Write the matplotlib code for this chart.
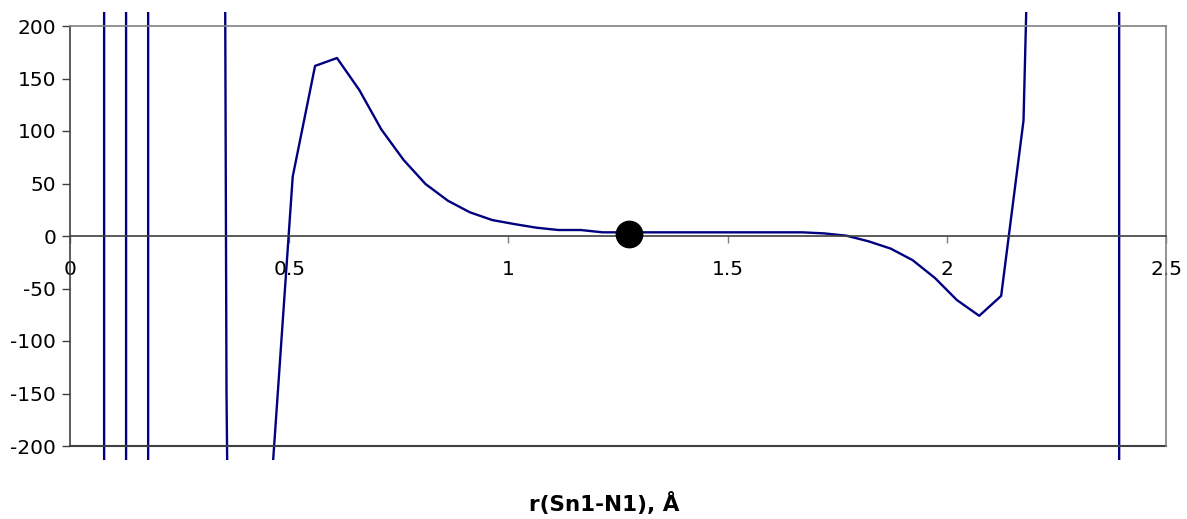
import matplotlib
matplotlib.use("Agg")
import matplotlib.pyplot as plt
from matplotlib.patches import Rectangle

# scan r(Sn1-N1) in Angstrom and the plotted quantity
r = [0.003, 0.054, 0.104, 0.155, 0.205, 0.256, 0.306, 0.357, 0.407, 0.458,
     0.508, 0.559, 0.609, 0.660, 0.710, 0.761, 0.811, 0.862, 0.912, 0.963,
     1.013, 1.064, 1.114, 1.165, 1.215, 1.266, 1.316, 1.367, 1.417, 1.468,
     1.518, 1.569, 1.619, 1.670, 1.720, 1.771, 1.821, 1.872, 1.922, 1.973,
     2.023, 2.074, 2.124, 2.175, 2.225, 2.276, 2.326, 2.377, 2.427, 2.478]
val = [-4.0e5, -4.56e5, 5.0e5, -5.66e5, 6.51e5, 2.0e5, 6170, -150, -2270, -246,
       56.5, 162, 169.5, 139, 101.6, 72.4, 49.5, 33.6, 22.6, 15.2,
       11.4, 7.9, 5.7, 5.7, 3.5, 3.5, 3.5, 3.5, 3.5, 3.5,
       3.5, 3.5, 3.5, 3.5, 2.5, 0.3, -5, -12, -23, -40,
       -61, -76, -57, 110, 950, 1.0e4, 1.0e5, 3.0e5, -6.29e5, -3.0e5]

# highlighted point
mark_r = [1.275]
mark_v = [2]

yticks = [-200, -150, -100, -50, 0, 50, 100, 150, 200]
xticks = [0, 0.5, 1, 1.5, 2, 2.5]

fig = plt.figure(figsize=(11.87, 5.19), dpi=100)
ax = fig.add_axes([70/1187., 1-446/519., 1096/1187., 420/519.])

line, = ax.plot(r, val, color="#000080", lw=1.7)
# let the curve run a little past the frame, like the original
clip = Rectangle((-0.01, -0.034), 1.02, 1.068, transform=ax.transAxes)
line.set_clip_path(clip)

ax.plot(mark_r, mark_v, "o", color="black", ms=19, zorder=5)

ax.set_xlim(0, 2.5)
ax.set_ylim(-200, 200)
ax.set_xticks(xticks)
ax.set_xticklabels(["0", "0.5", "1", "1.5", "2", "2.5"])
ax.set_yticks(yticks)
ax.set_yticklabels([str(v) for v in yticks])

ax.spines["bottom"].set_position(("data", 0))
ax.spines["bottom"].set_color("#404040")
ax.spines["left"].set_color("#404040")
ax.spines["top"].set_color("#808080")
ax.spines["right"].set_color("#808080")
for s in ax.spines.values():
    s.set_linewidth(1.2)
# frame bottom edge
ax.plot([0, 1], [0, 0], transform=ax.transAxes, color="#404040", lw=1.5, clip_on=False)

ax.tick_params(axis="x", direction="out", length=5, width=1, color="#808080",
               labelsize=14.5, pad=12)
ax.tick_params(axis="y", direction="out", length=6, width=1, color="#404040",
               labelsize=14.5, pad=4)

fig.text(604/1187., 1-503/519., "r(Sn1-N1), Å", ha="center", va="center",
         fontsize=15.5, fontweight="bold")

fig.savefig("out.png", dpi=100)
